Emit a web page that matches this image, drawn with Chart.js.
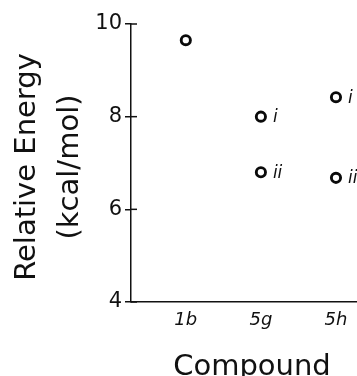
<!DOCTYPE html>
<html>
<head>
<meta charset="utf-8">
<script src="https://cdn.jsdelivr.net/npm/chart.js@4/dist/chart.umd.min.js"></script>
<style>
  html, body { margin: 0; padding: 0; background: #ffffff; }
  #wrap { width: 357px; height: 376px; }
</style>
</head>
<body>
<div id="wrap"><canvas id="c" width="357" height="376"></canvas></div>
<script>
// ---- data ----
const categories = ['1b', '5g', '5h'];
const energyI = [9.65, 8.0, 8.42];
const energyII = [null, 6.8, 6.68];
const labelsI = ['', 'i', 'i'];
const labelsII = ['', 'ii', 'ii'];
const yTicks = [4, 6, 8, 10];
const xTitle = 'Compound';
const yTitleLines = ['Relative Energy', '(kcal/mol)'];

const FONT = "'DejaVu Sans', sans-serif";

function toPoints(vals) {
  const out = [];
  vals.forEach((v, i) => { if (v !== null) out.push({ x: i + 1, y: v, cat: i }); });
  return out;
}

const decor = {
  id: 'decor',
  afterDraw(chart) {
    const ctx = chart.ctx;
    const ys = chart.scales.y;
    const ca = chart.chartArea;
    ctx.save();
    // inner half of y tick marks (crossing the axis)
    ctx.strokeStyle = '#111';
    ctx.lineWidth = 1.5;
    yTicks.forEach(t => {
      const py = ys.getPixelForValue(t);
      ctx.beginPath();
      ctx.moveTo(ca.left, py);
      ctx.lineTo(ca.left + 6, py);
      ctx.stroke();
    });
    // point annotations
    ctx.fillStyle = '#111';
    ctx.font = 'italic 17px ' + FONT;
    ctx.textBaseline = 'middle';
    ctx.textAlign = 'left';
    chart.data.datasets.forEach((ds, di) => {
      const meta = chart.getDatasetMeta(di);
      meta.data.forEach((el, k) => {
        const lab = ds.pointText[ds.data[k].cat];
        if (lab) ctx.fillText(lab, el.x + 12, el.y + 1);
      });
    });
    // axis titles
    ctx.font = '29px ' + FONT;
    ctx.textAlign = 'center';
    ctx.textBaseline = 'alphabetic';
    ctx.fillText(xTitle, (ca.left + ca.right) / 2 + 8, 375);
    const midY = (ca.top + ca.bottom) / 2 + 4;
    [35, 78].forEach((bx, i) => {
      ctx.save();
      ctx.translate(bx, midY);
      ctx.rotate(-Math.PI / 2);
      ctx.fillText(yTitleLines[i], 0, 0);
      ctx.restore();
    });
    ctx.restore();
  }
};

const pointStyle = {
  showLine: false,
  pointStyle: 'circle',
  pointRadius: 4.6,
  pointBorderWidth: 2.9,
  pointBackgroundColor: '#ffffff',
  pointBorderColor: '#0a0a0a',
  pointHoverRadius: 4.6,
  clip: false
};

new Chart(document.getElementById('c'), {
  type: 'scatter',
  data: {
    datasets: [
      Object.assign({ label: 'i', data: toPoints(energyI), pointText: labelsI }, pointStyle),
      Object.assign({ label: 'ii', data: toPoints(energyII), pointText: labelsII }, pointStyle)
    ]
  },
  options: {
    responsive: false,
    animation: false,
    devicePixelRatio: 1,
    layout: { autoPadding: false, padding: { top: 24, right: 0, left: 0, bottom: 0 } },
    plugins: { legend: { display: false }, tooltip: { enabled: false } },
    scales: {
      x: {
        type: 'linear',
        min: 0.27,
        max: 3.28,
        afterBuildTicks: s => { s.ticks = categories.map((c, i) => ({ value: i + 1 })); },
        afterFit: s => { s.height = 74; s.paddingLeft = 0; s.paddingRight = 0; },
        grid: { display: false, drawTicks: false },
        border: { display: true, color: '#111', width: 1.5 },
        ticks: {
          callback: v => categories[Math.round(v) - 1],
          color: '#111',
          font: { family: FONT, size: 18, style: 'italic' },
          padding: 8,
          maxRotation: 0,
          autoSkip: false
        }
      },
      y: {
        type: 'linear',
        min: 4,
        max: 10,
        afterBuildTicks: s => { s.ticks = yTicks.map(v => ({ value: v })); },
        afterFit: s => { s.width = 131; s.paddingTop = 0; s.paddingBottom = 0; },
        grid: { display: true, drawOnChartArea: false, drawTicks: true, tickLength: 6, color: '#111', lineWidth: 1.5 },
        border: { display: true, color: '#111', width: 1.5 },
        ticks: {
          color: '#111',
          font: { family: FONT, size: 21 },
          padding: 3
        }
      }
    }
  },
  plugins: [decor]
});
</script>
</body>
</html>
